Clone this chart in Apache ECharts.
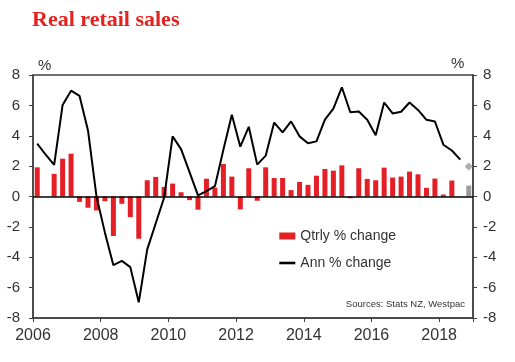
<!DOCTYPE html>
<html><head><meta charset="utf-8">
<script src="https://cdn.jsdelivr.net/npm/echarts@6/dist/echarts.min.js"></script>
<style>html,body{margin:0;padding:0;background:#fff}#c{width:515px;height:362px}</style>
</head><body><div id="c"></div>
<script>
// Quarterly categories 2006Q1 .. 2018Q4
const quarters = [
 '2006Q1','2006Q2','2006Q3','2006Q4','2007Q1','2007Q2','2007Q3','2007Q4',
 '2008Q1','2008Q2','2008Q3','2008Q4','2009Q1','2009Q2','2009Q3','2009Q4',
 '2010Q1','2010Q2','2010Q3','2010Q4','2011Q1','2011Q2','2011Q3','2011Q4',
 '2012Q1','2012Q2','2012Q3','2012Q4','2013Q1','2013Q2','2013Q3','2013Q4',
 '2014Q1','2014Q2','2014Q3','2014Q4','2015Q1','2015Q2','2015Q3','2015Q4',
 '2016Q1','2016Q2','2016Q3','2016Q4','2017Q1','2017Q2','2017Q3','2017Q4',
 '2018Q1','2018Q2','2018Q3','2018Q4'
];
// Qtrly % change (red bars)
const qtrlyChange = [
 1.92, 0.00, 1.49, 2.49, 2.82, -0.35, -0.74, -0.92,
 -0.31, -2.60, -0.48, -1.36, -2.78, 1.07, 1.29, 0.63,
 0.85, 0.28, -0.24, -0.87, 1.17, 0.58, 2.14, 1.31,
 -0.85, 1.86, -0.28, 1.92, 1.22, 1.22, 0.42, 0.96,
 0.77, 1.37, 1.81, 1.70, 2.05, -0.11, 1.86, 1.16,
 1.07, 1.90, 1.25, 1.31, 1.64, 1.46, 0.57, 1.18,
 0.13, 1.05, null, null
];
// Ann % change (black line)
const annChange = [
 3.48, 2.75, 2.08, 6.03, 6.97, 6.62, 4.35, 0.02,
 -2.38, -4.52, -4.24, -4.65, -6.97, -3.48, -1.78, -0.07,
 3.96, 3.12, 1.60, 0.07, 0.35, 0.68, 3.08, 5.38,
 3.28, 4.59, 2.10, 2.69, 4.87, 4.22, 4.94, 3.96,
 3.50, 3.63, 5.06, 5.78, 7.19, 5.55, 5.60, 5.05,
 4.03, 6.19, 5.47, 5.58, 6.19, 5.70, 5.05, 4.94,
 3.41, 3.03, 2.43, null
];
// Forecast (grey)
const forecastQuarter = '2018Q4';
const forecastQtrly = 0.72;
const forecastAnn = 1.97;
// Axis ticks
const xTickYears = [2006, 2008, 2010, 2012, 2014, 2016, 2018];
const yTicks = [-8, -6, -4, -2, 0, 2, 4, 6, 8];

function qx(q){ const y = +q.slice(0,4), n = +q.slice(5); return y + (n - 1) / 4 + 0.125; }

const FONT = 'Liberation Sans, Arial, sans-serif';
const RED = '#e41f26';
const AX = '#404040';

const chart = echarts.init(document.getElementById('c'), null, {renderer:'canvas'});
const yAxisBase = {
  type:'value', min: yTicks[0], max: yTicks[yTicks.length-1], interval: 2,
  splitLine:{show:false},
  axisLine:{show:true, onZero:false, lineStyle:{color:AX, width:1.5}},
  axisTick:{show:true, inside:false, length:4, lineStyle:{color:AX, width:1}},
  axisLabel:{fontSize:15, color:'#333', fontFamily:FONT}
};
chart.setOption({
  animation:false,
  backgroundColor:'#fff',
  grid:{left:33, right:42, top:75, bottom:44, containLabel:false, outerBoundsMode:'none',
        show:true, borderColor:AX, borderWidth:1.5, backgroundColor:'transparent'},
  xAxis:{
    type:'value', min: xTickYears[0], max: 2019, interval: 2,
    splitLine:{show:false},
    axisLine:{show:true, onZero:false, lineStyle:{color:AX, width:1.5}},
    axisTick:{show:true, length:4, lineStyle:{color:AX, width:1}},
    axisLabel:{fontSize:16, color:'#333', fontFamily:FONT, margin:10,
      formatter: v => (xTickYears.indexOf(v) >= 0 ? String(v) : '')}
  },
  yAxis:[
    Object.assign({}, yAxisBase, {position:'left', axisLabel:Object.assign({}, yAxisBase.axisLabel, {margin:13})}),
    Object.assign({}, yAxisBase, {position:'right', axisLabel:Object.assign({}, yAxisBase.axisLabel, {margin:10})})
  ],
  legend:{
    orient:'vertical', left:273, top:224, padding:5, itemWidth:16, itemHeight:7, itemGap:13,
    textStyle:{fontSize:14, color:'#333', fontFamily:FONT},
    data:[
      {name:'Qtrly % change', icon:'rect'},
      {name:'Ann % change', itemStyle:{color:'rgba(0,0,0,0)', borderWidth:0, opacity:0},
       lineStyle:{color:'#000', width:2.6}}
    ]
  },
  series:[
    {
      name:'Qtrly % change', type:'bar', barWidth:5, barGap:'-100%',
      itemStyle:{color:RED},
      data: quarters.map((q,i) => [qx(q), qtrlyChange[i]]).filter(d => d[1] !== null),
      markLine:{silent:true, symbol:['none','none'], label:{show:false},
        lineStyle:{color:'#000', width:1.5, type:'solid'}, data:[{yAxis:0}]},
      z:2
    },
    {
      name:'Forecast qtrly', type:'bar', barWidth:5, barGap:'-100%',
      itemStyle:{color:'#9b9b9b'},
      data:[[qx(forecastQuarter), forecastQtrly]], z:2
    },
    {
      name:'Ann % change', type:'line', symbol:'none', showSymbol:false,
      lineStyle:{color:'#000', width:2}, itemStyle:{color:'#000'},
      data: quarters.map((q,i) => [qx(q), annChange[i]]).filter(d => d[1] !== null),
      z:3
    },
    {
      name:'Forecast ann', type:'scatter', symbol:'diamond', symbolSize:[8,8],
      itemStyle:{color:'#9a9a9a'},
      data:[[qx(forecastQuarter), forecastAnn]], z:4
    }
  ],
  graphic:[
    {type:'text', x:32, y:20, style:{text:'Real retail sales', fill:'#e3231f',
      font:'bold 22px "Liberation Serif", "Times New Roman", serif', verticalAlign:'middle', textVerticalAlign:'middle'}},
    {type:'text', x:38, y:66, style:{text:'%', fill:'#333', font:'15px ' + FONT, verticalAlign:'middle', textVerticalAlign:'middle'}},
    {type:'text', x:451, y:64, style:{text:'%', fill:'#333', font:'15px ' + FONT, verticalAlign:'middle', textVerticalAlign:'middle'}},
    {type:'text', x:465, y:304.5, style:{text:'Sources: Stats NZ, Westpac', fill:'#333', font:'9.5px ' + FONT,
      align:'right', textAlign:'right', verticalAlign:'middle', textVerticalAlign:'middle'}}
  ]
});
</script>
</body></html>
